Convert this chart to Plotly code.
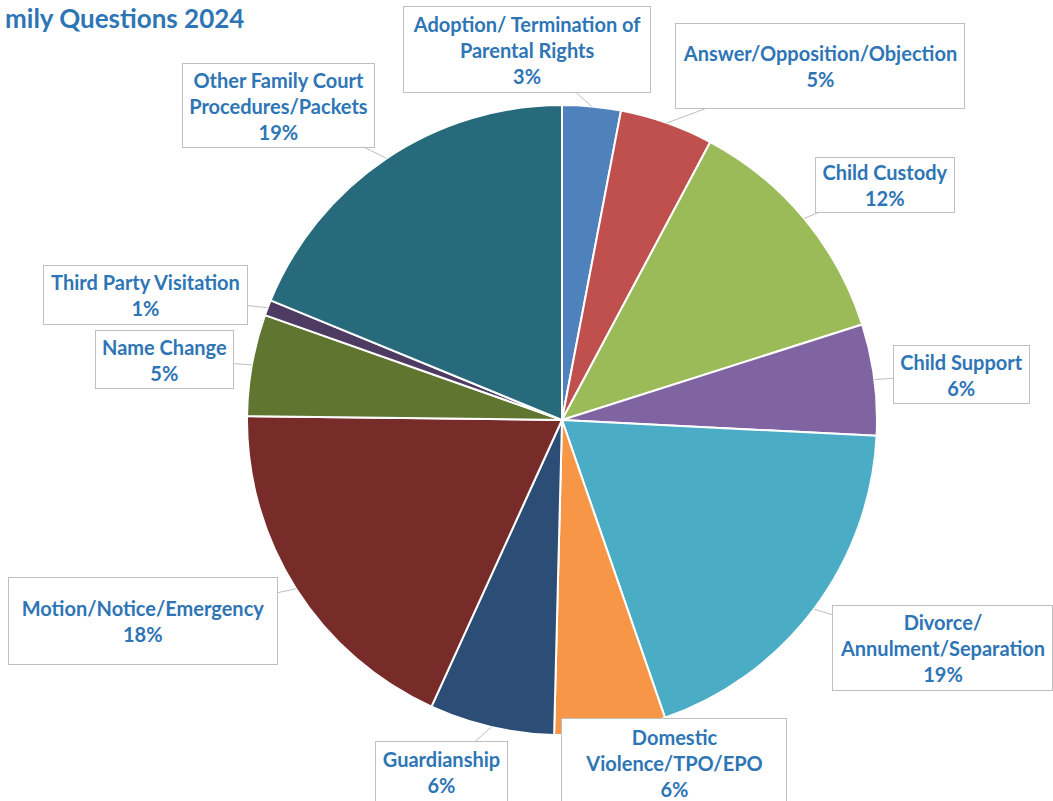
import math
import plotly.graph_objects as go

# ---------------- data ----------------
categories = [
    "Adoption/ Termination of<br>Parental Rights",
    "Answer/Opposition/Objection",
    "Child Custody",
    "Child Support",
    "Divorce/<br>Annulment/Separation",
    "Domestic<br>Violence/TPO/EPO",
    "Guardianship",
    "Motion/Notice/Emergency",
    "Name Change",
    "Third Party Visitation",
    "Other Family Court<br>Procedures/Packets",
]
values = [3.0, 4.8, 12.3, 5.7, 18.9, 5.7, 6.4, 18.4, 5.2, 0.8, 18.8]
title_text = "mily Questions 2024"

# ---------------- styles / layout ----------------
colors = ["#4F81BD", "#C0504D", "#9BBB59", "#8064A2", "#4BACC6", "#F79646",
          "#2C4D75", "#772C2A", "#5F7530", "#4D3B62", "#276A7C"]
W, H = 1053, 801
CX, CY, R = 562, 420, 315          # pie centre / radius in pixels
TEXT_BLUE = "#2E75B6"
FONT = "Lato"
BOX_COLOR = "#BFBFBF"
# label box centre (px) and size (px)
label_boxes = [
    (527, 49, 248, 87),
    (820, 66, 290, 86),
    (885, 185, 140, 56),
    (961, 374, 137, 59),
    (942, 648, 221, 86),
    (674, 763, 226, 90),
    (441, 772, 133, 62),
    (143, 621, 270, 88),
    (164, 359, 139, 59),
    (145, 295, 205, 60),
    (278, 105, 193, 85),
]

fig = go.Figure(go.Pie(
    labels=[c.replace("<br>", " ") for c in categories],
    values=values,
    sort=False,
    direction="clockwise",
    rotation=0,
    marker=dict(colors=colors, line=dict(color="white", width=2)),
    textinfo="none",
    hoverinfo="label+percent",
    showlegend=False,
    domain=dict(x=[(CX - R) / W, (CX + R) / W],
                y=[1 - (CY + R) / H, 1 - (CY - R) / H]),
))

total = sum(values)
annotations = []
cum = 0.0
for cat, v, box in zip(categories, values, label_boxes):
    mid = (cum + v / 2) / total * 2 * math.pi
    cum += v
    hx = CX + R * math.sin(mid)
    hy = CY - R * math.cos(mid)
    bcx, bcy, bw, bh = box
    pct = int(v / total * 100 + 0.5)
    annotations.append(dict(
        x=hx / W, y=1 - hy / H, xref="paper", yref="paper",
        text=f"<b>{cat}<br>{pct}%</b>",
        showarrow=True, arrowhead=0, arrowwidth=1, arrowcolor=BOX_COLOR,
        standoff=0,
        ax=bcx - hx, ay=bcy - hy,
        width=bw - 2, height=bh - 2,
        align="center", valign="middle",
        bordercolor=BOX_COLOR, borderwidth=1, borderpad=0,
        bgcolor="white",
        font=dict(family=FONT, size=20, color=TEXT_BLUE),
    ))

annotations.append(dict(
    x=3 / W, y=1 - 18 / H, xref="paper", yref="paper",
    xanchor="left", yanchor="middle", showarrow=False,
    text=f"<b>{title_text}</b>",
    font=dict(family=FONT, size=26, color=TEXT_BLUE),
))

fig.update_layout(
    width=W, height=H,
    margin=dict(l=0, r=0, t=0, b=0),
    paper_bgcolor="white",
    plot_bgcolor="white",
    annotations=annotations,
)

fig.write_html(
    "out.html",
    config={"displayModeBar": False},
    post_script="document.body.style.margin='0';document.body.style.overflow='hidden';",
)
